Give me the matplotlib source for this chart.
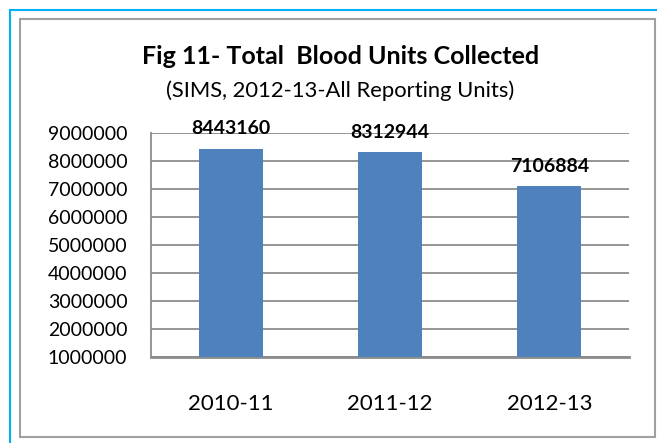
import matplotlib
matplotlib.use("Agg")
import matplotlib.pyplot as plt
from matplotlib.patches import Rectangle

years = ["2010-11", "2011-12", "2012-13"]
units = [8443160, 8312944, 7106884]
yticks = [1000000, 2000000, 3000000, 4000000, 5000000, 6000000, 7000000, 8000000, 9000000]

plt.rcParams['font.family'] = ['Lato', 'DejaVu Sans']

W, H = 657, 443
fig = plt.figure(figsize=(W / 100, H / 100), dpi=100)

# outer cyan border (runs off the right and bottom edges) and inner grey border
fig.patches.append(Rectangle((10 / W, -0.5), 2, 1.5 - 10 / H, transform=fig.transFigure,
                             fill=False, edgecolor='#00b0f0', linewidth=1.5))
fig.patches.append(Rectangle((20 / W, 1 - 437 / H), (655 - 20) / W, (437 - 19) / H,
                             transform=fig.transFigure, fill=False,
                             edgecolor='#a0a0a0', linewidth=1.5))

ax = fig.add_axes([151 / W, 1 - 357 / H, (629 - 151) / W, (357 - 133) / H])
x = range(len(years))
bars = ax.bar(x, units, width=0.4, color='#4f81bd', zorder=3)

ax.set_ylim(1000000, 9000000)
ax.set_xlim(-0.5, 2.5)
ax.set_yticks(yticks)
ax.set_yticklabels([str(v) for v in yticks], fontsize=14)
ax.set_xticks(list(x))
ax.set_xticklabels(years, fontsize=16)
ax.tick_params(axis='y', length=0, pad=17)
ax.tick_params(axis='x', length=0, pad=27)
ax.yaxis.grid(True, color='#8c8c8c', linewidth=1.3, zorder=0)
for s in ['top', 'right']:
    ax.spines[s].set_visible(False)
ax.spines['left'].set_color('#8c8c8c')
ax.spines['bottom'].set_color('#8c8c8c')
ax.spines['left'].set_linewidth(1.3)
ax.spines['bottom'].set_linewidth(2)

for b, v in zip(bars, units):
    ax.annotate(str(v), (b.get_x() + b.get_width() / 2, v), xytext=(0, 8),
                textcoords='offset points', ha='center', va='bottom',
                fontsize=14, fontweight='bold')

fig.text(341 / W, 1 - 57 / H, "Fig 11- Total  Blood Units Collected", ha='center',
         va='center', fontsize=18, fontweight='bold')
fig.text(340 / W, 1 - 91 / H, "(SIMS, 2012-13-All Reporting Units)", ha='center',
         va='center', fontsize=15.8)

fig.savefig("out.png", dpi=100)
